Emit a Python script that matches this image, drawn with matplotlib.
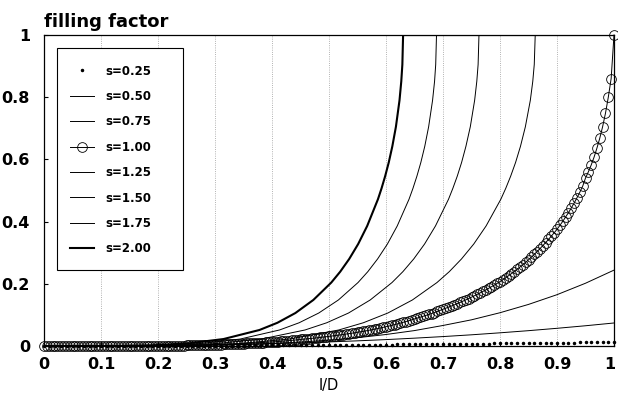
import matplotlib
matplotlib.use('Agg')
import matplotlib.pyplot as plt
from matplotlib.patches import Rectangle
from matplotlib.transforms import ScaledTranslation

plt.rcParams['font.family'] = ['DejaVu Sans']
plt.rcParams['font.weight'] = 'bold'

# filling factor, shared levels for the saturating curves (s > 1)
levels_sat = [0, 0.0004, 0.0022, 0.0082, 0.0224, 0.0515, 0.0747, 0.106, 0.148, 0.204,
              0.239, 0.280, 0.328, 0.386, 0.472, 0.507, 0.546, 0.590, 0.642, 0.705,
              0.790, 0.851, 0.905, 1.0, 1.0]

x_s125 = [0, 0.1724, 0.2585, 0.3447, 0.4309, 0.5171, 0.5602, 0.6032, 0.6463, 0.6894,
          0.7110, 0.7325, 0.7540, 0.7756, 0.8015, 0.8101, 0.8187, 0.8273, 0.8359, 0.8445,
          0.8532, 0.8575, 0.8601, 0.8618, 1.0]
x_s150 = [0, 0.1526, 0.2289, 0.3053, 0.3816, 0.4579, 0.4960, 0.5342, 0.5723, 0.6105,
          0.6296, 0.6487, 0.6677, 0.6868, 0.7097, 0.7173, 0.7250, 0.7326, 0.7402, 0.7479,
          0.7555, 0.7593, 0.7616, 0.7631, 1.0]
x_s175 = [0, 0.1377, 0.2066, 0.2754, 0.3443, 0.4132, 0.4476, 0.4820, 0.5165, 0.5509,
          0.5681, 0.5853, 0.6025, 0.6197, 0.6404, 0.6473, 0.6542, 0.6611, 0.6680, 0.6748,
          0.6817, 0.6852, 0.6872, 0.6886, 1.0]
x_s200 = [0, 0.1260, 0.1890, 0.2520, 0.3150, 0.3780, 0.4095, 0.4410, 0.4725, 0.5040,
          0.5197, 0.5355, 0.5512, 0.5670, 0.5859, 0.5922, 0.5985, 0.6048, 0.6111, 0.6174,
          0.6237, 0.6268, 0.6287, 0.6300, 1.0]

# s = 0.50 and s = 0.75 (never saturate)
x_low = [0, 0.1, 0.2, 0.3, 0.35, 0.4, 0.45, 0.5, 0.55, 0.6, 0.65, 0.7, 0.75, 0.8,
         0.85, 0.9, 0.95, 1.0]
y_s050 = [0, 0.0002, 0.0013, 0.0036, 0.0054, 0.0075, 0.0101, 0.0131, 0.0166, 0.0206,
          0.0252, 0.0303, 0.0360, 0.0424, 0.0493, 0.0569, 0.0651, 0.0740]
y_s075 = [0, 0, 0.0006, 0.0029, 0.0050, 0.0082, 0.0127, 0.0188, 0.0267, 0.0370,
          0.0496, 0.0660, 0.0842, 0.1070, 0.1337, 0.1650, 0.2018, 0.2440]

# s = 1.00 (circles), sampled every 0.005 in l/D
x_s100 = [i / 200 for i in range(201)]
y_s100 = [
    0, 0, 0, 0, 0, 0, 0, 0, 0, 0,
    0, 0, 0, 0, 0, 0, 0, 0, 0, 0,
    0, 0, 0, 0, 0, 0, 0.0001, 0.0001, 0.0001, 0.0001,
    0.0002, 0.0002, 0.0002, 0.0003, 0.0003, 0.0003, 0.0004, 0.0004, 0.0005, 0.0005,
    0.0006, 0.0007, 0.0007, 0.0008, 0.0009, 0.0010, 0.0011, 0.0012, 0.0013, 0.0015,
    0.0017, 0.0019, 0.0021, 0.0023, 0.0025, 0.0027, 0.0030, 0.0033, 0.0036, 0.0038,
    0.0040, 0.0043, 0.0046, 0.0049, 0.0053, 0.0057, 0.0061, 0.0065, 0.0070, 0.0075,
    0.0080, 0.0084, 0.0088, 0.0093, 0.0097, 0.0102, 0.0107, 0.0112, 0.0118, 0.0124,
    0.0130, 0.0136, 0.0143, 0.0150, 0.0158, 0.0165, 0.0173, 0.0182, 0.0191, 0.0200,
    0.0210, 0.0218, 0.0227, 0.0236, 0.0245, 0.0255, 0.0265, 0.0276, 0.0287, 0.0298,
    0.0310, 0.0321, 0.0332, 0.0344, 0.0357, 0.0369, 0.0383, 0.0396, 0.0410, 0.0425,
    0.0440, 0.0455, 0.0471, 0.0488, 0.0505, 0.0523, 0.0541, 0.0559, 0.0579, 0.0599,
    0.0620, 0.0641, 0.0663, 0.0686, 0.0710, 0.0735, 0.0760, 0.0786, 0.0813, 0.0841,
    0.0870, 0.0897, 0.0925, 0.0953, 0.0983, 0.1013, 0.1045, 0.1077, 0.1110, 0.1145,
    0.1180, 0.1214, 0.1249, 0.1286, 0.1323, 0.1361, 0.1401, 0.1441, 0.1483, 0.1526,
    0.1570, 0.1614, 0.1659, 0.1706, 0.1753, 0.1802, 0.1853, 0.1905, 0.1958, 0.2013,
    0.2070, 0.2131, 0.2194, 0.2259, 0.2325, 0.2394, 0.2465, 0.2537, 0.2612, 0.2689,
    0.2770, 0.2855, 0.2943, 0.3034, 0.3128, 0.3224, 0.3323, 0.3426, 0.3531, 0.3640,
    0.3750, 0.3875, 0.4005, 0.4142, 0.4285, 0.4436, 0.4595, 0.4764, 0.4944, 0.5136,
    0.5400, 0.5600, 0.5820, 0.6070, 0.6360, 0.6680, 0.7050, 0.7480, 0.8000, 0.8600,
    1.0]

# s = 0.25 (dots), sampled every 0.01 in l/D
x_s025 = [i / 100 for i in range(101)]
y_s025 = [
    0, 0, 0, 0, 0, 0, 0, 0.0001, 0.0001, 0.0001,
    0.0001, 0.0002, 0.0002, 0.0002, 0.0003, 0.0003, 0.0003, 0.0004, 0.0004, 0.0005,
    0.0005, 0.0006, 0.0006, 0.0007, 0.0007, 0.0008, 0.0009, 0.0009, 0.0010, 0.0011,
    0.0012, 0.0012, 0.0013, 0.0014, 0.0015, 0.0016, 0.0017, 0.0018, 0.0019, 0.0020,
    0.0021, 0.0022, 0.0023, 0.0024, 0.0025, 0.0026, 0.0028, 0.0029, 0.0030, 0.0031,
    0.0033, 0.0034, 0.0035, 0.0037, 0.0038, 0.0039, 0.0041, 0.0042, 0.0044, 0.0045,
    0.0047, 0.0048, 0.0050, 0.0052, 0.0053, 0.0055, 0.0057, 0.0058, 0.0060, 0.0062,
    0.0064, 0.0066, 0.0067, 0.0069, 0.0071, 0.0073, 0.0075, 0.0077, 0.0079, 0.0081,
    0.0083, 0.0085, 0.0087, 0.0090, 0.0092, 0.0094, 0.0096, 0.0098, 0.0101, 0.0103,
    0.0105, 0.0108, 0.0110, 0.0112, 0.0115, 0.0117, 0.0120, 0.0122, 0.0125, 0.0127,
    0.0130]

x_ticks = [0, 0.1, 0.2, 0.3, 0.4, 0.5, 0.6, 0.7, 0.8, 0.9, 1]
x_ticklabels = ['0', '0.1', '0.2', '0.3', '0.4', '0.5', '0.6', '0.7', '0.8', '0.9', '1']
y_ticks = [0, 0.2, 0.4, 0.6, 0.8, 1]
y_ticklabels = ['0', '0.2', '0.4', '0.6', '0.8', '1']

fig = plt.figure(figsize=(6.18, 3.95), dpi=100)
ax = fig.add_axes([44 / 618, 1 - 346 / 395, 570 / 618, 311 / 395])

k = 'black'
ax.plot(x_s025, y_s025, '.', color=k, markersize=3, clip_on=False, label='s=0.25')
ax.plot(x_low, y_s050, '-', color=k, lw=0.7, label='s=0.50')
ax.plot(x_low, y_s075, '-', color=k, lw=0.7, label='s=0.75')
ax.plot(x_s100, y_s100, '-o', color=k, lw=0.7, markersize=7, markerfacecolor='none',
        markeredgewidth=0.6, clip_on=False, label='s=1.00')
ax.plot(x_s125, levels_sat, '-', color=k, lw=0.7, label='s=1.25')
ax.plot(x_s150, levels_sat, '-', color=k, lw=0.7, label='s=1.50')
ax.plot(x_s175, levels_sat, '-', color=k, lw=0.7, label='s=1.75')
ax.plot(x_s200, levels_sat, '-', color=k, lw=1.5, label='s=2.00')

ax.set_xlim(0, 1)
ax.set_ylim(0, 1)
ax.set_xticks(x_ticks)
ax.set_xticklabels(x_ticklabels)
ax.set_yticks(y_ticks)
ax.set_yticklabels(y_ticklabels)
ax.tick_params(direction='in', length=3, width=0.8, labelsize=11.5)
ax.tick_params(axis='x', pad=8)
ax.tick_params(axis='y', pad=10)
ax.grid(True, axis='x', linestyle=':', color='#999999', lw=0.6)
for sp in ax.spines.values():
    sp.set_linewidth(0.9)

# nudge the last x tick label so it stays inside the canvas
last = ax.get_xticklabels()[-1]
last.set_transform(last.get_transform() + ScaledTranslation(-4 / 100, 0, fig.dpi_scale_trans))

ax.set_xlabel('l/D', fontsize=10.5, labelpad=4)
ax.set_title('filling factor', loc='left', fontsize=13, fontweight='bold', pad=6)

# legend box drawn separately (MATLAB style, wide right padding)
ax.add_patch(Rectangle((0.023, 0.244), 0.221, 0.714, transform=ax.transAxes,
                       fill=True, facecolor='white', edgecolor='black', lw=0.8, zorder=4))
leg = ax.legend(loc='upper left', bbox_to_anchor=(0.046, 0.905), frameon=False,
                fontsize=8.5, borderpad=0, borderaxespad=0, handlelength=2.0,
                handletextpad=1.0, labelspacing=1.05)
leg.set_zorder(5)

plt.savefig('out.png', dpi=100)
